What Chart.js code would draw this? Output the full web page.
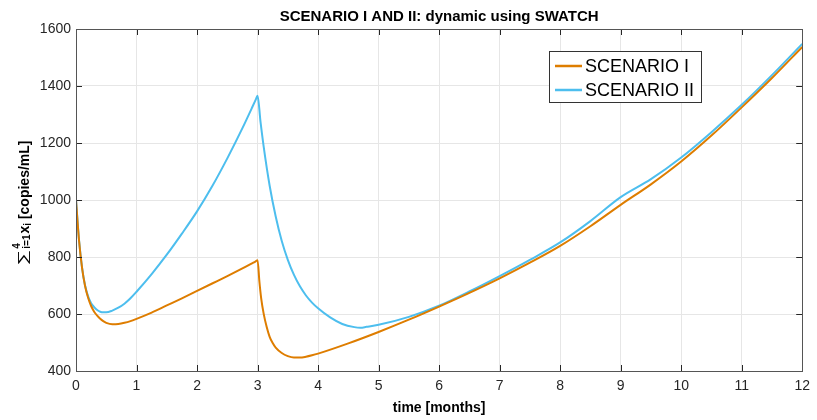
<!DOCTYPE html>
<html>
<head>
<meta charset="utf-8">
<script src="https://cdn.jsdelivr.net/npm/chart.js@4.4.1/dist/chart.umd.min.js"></script>
<style>
html,body{margin:0;padding:0;background:#fff}
</style>
</head>
<body>
<canvas id="chart" width="817" height="420"></canvas>
<script>
// values (time in months, copies/mL)
const timeI = [0,0.05,0.1,0.15,0.2,0.25,0.3,0.35,0.4,0.45,0.5,0.6,0.7,0.8,0.9,1,1.25,1.5,1.75,2,2.25,2.5,2.75,2.9,2.97,3,
  3.03,3.06,3.1,3.15,3.2,3.25,3.3,3.4,3.5,3.6,3.7,3.8,3.9,4,4.5,5,5.5,6,6.5,7,7.5,8,8.5,9,9.5,10,10.5,11,11.5,12]
const scenarioI = [1000,858,762,698,657,628,608,594,583,575,569,564,565,569,575,583,605,630,655,681,707,733,760,777,785,789,
  715,655,602,555,520,498,482,463,452,447,447,450,455,461,497,537,580,626,674,725,780,839,908,983,1055,1135,1226,1325,1428,1537]

const timeII = [0,0.05,0.1,0.15,0.2,0.25,0.3,0.35,0.4,0.45,0.5,0.6,0.7,0.8,0.9,1,1.25,1.5,1.75,2,2.25,2.5,2.75,2.9,2.97,3,
  3.05,3.1,3.2,3.3,3.4,3.5,3.6,3.7,3.8,3.9,4,4.2,4.4,4.6,4.7,4.8,5,5.5,6,6.5,7,7.5,8,8.5,9,9.5,10,10.5,11,11.5,12]
const scenarioII = [1000,860,763,700,662,638,624,614,608,606,606,612,622,636,655,678,740,808,882,960,1048,1146,1252,1320,1352,1366,
  1272,1189,1050,942,856,790,738,697,665,640,620,588,565,554,552,555,562,590,629,679,733,790,851,926,1010,1073,1149,1238,1334,1438,1548]

const seriesNames = ["SCENARIO I","SCENARIO II"]
const seriesColors = ["#DE7D00","#4DBEEE"]
const xTicks = [0,1,2,3,4,5,6,7,8,9,10,11,12]
const yTicks = [400,600,800,1000,1200,1400,1600]

const axisColor = "#262626"
const gridColor = "#e6e6e6"
const fontFam = "'Liberation Sans', Arial, Helvetica, sans-serif"

function toPoints(xs, ys){
  return xs.map((x,i)=>({x:x, y:ys[i]}))
}

// box round the plot with inward ticks, like MATLAB axes
const boxPlugin = {
  id:"box",
  afterDatasetsDraw(chart){
    const {ctx, chartArea:a, scales} = chart
    ctx.save()
    ctx.strokeStyle = axisColor
    ctx.lineWidth = 1
    ctx.beginPath()
    xTicks.forEach(v=>{
      let px = Math.round(scales.x.getPixelForValue(v))+0.5
      ctx.moveTo(px,a.bottom); ctx.lineTo(px,a.bottom-6)
      ctx.moveTo(px,a.top); ctx.lineTo(px,a.top+6)
    })
    yTicks.forEach(v=>{
      let py = Math.round(scales.y.getPixelForValue(v))+0.5
      ctx.moveTo(a.left,py); ctx.lineTo(a.left+6,py)
      ctx.moveTo(a.right,py); ctx.lineTo(a.right-6,py)
    })
    ctx.stroke()
    ctx.strokeStyle = "#555"
    ctx.strokeRect(Math.round(a.left)+0.5, Math.round(a.top)+0.5, Math.round(a.right-a.left), Math.round(a.bottom-a.top))
    ctx.restore()
  }
}

// legend box inside the plot
const legendPlugin = {
  id:"legendBox",
  afterDraw(chart){
    const ctx = chart.ctx
    ctx.save()
    ctx.fillStyle = "#fff"
    ctx.fillRect(549,51,152,51)
    ctx.strokeStyle = "#333"
    ctx.lineWidth = 1
    ctx.strokeRect(549.5,51.5,152,51)
    ctx.font = "18px " + fontFam
    ctx.textBaseline = "middle"
    chart.data.datasets.forEach((ds,i)=>{
      let y = 66 + i*24
      ctx.strokeStyle = ds.borderColor
      ctx.lineWidth = 2.5
      ctx.beginPath(); ctx.moveTo(555,y); ctx.lineTo(582,y); ctx.stroke()
      ctx.fillStyle = "#000"
      ctx.fillText(ds.label, 585, y+1)
    })
    ctx.restore()
  }
}

// y label with sum, superscript and subscripts
const yLabelPlugin = {
  id:"yLabel",
  afterDraw(chart){
    const ctx = chart.ctx
    const parts = [
      {t:"\u2211", f:"13px "+fontFam, dy:-2, sx:1.7},
      {t:"4", f:"bold 10px "+fontFam, dy:-9, stack:true, gap:1},
      {t:"i=1", f:"bold 10px "+fontFam, dy:1.5, gap:1},
      {t:"x", f:"bold 14px "+fontFam, dy:0, gap:1},
      {t:"i", f:"bold 10px "+fontFam, dy:2.5},
      {t:" [copies/mL]", f:"bold 14px "+fontFam, dy:0}
    ]
    ctx.save()
    let widths = []
    let total = 0
    parts.forEach((p,i)=>{
      ctx.font = p.f
      let w = ctx.measureText(p.t).width * (p.sx||1)
      widths.push(w)
      if(!p.stack) total += w + (p.gap||0)
    })
    ctx.translate(28.5, 203)
    ctx.rotate(-Math.PI/2)
    ctx.fillStyle = "#000"
    ctx.textBaseline = "alphabetic"
    let x = -total/2
    parts.forEach((p,i)=>{
      ctx.font = p.f
      let gx = x + (p.gap||0)
      if(p.sx){
        ctx.save(); ctx.translate(gx, p.dy); ctx.scale(p.sx,1); ctx.fillText(p.t,0,0); ctx.restore()
      } else {
        ctx.fillText(p.t, gx, p.dy)
      }
      if(!p.stack) x = gx + widths[i]
    })
    ctx.restore()
  }
}

new Chart(document.getElementById("chart"),{
  type:"line",
  data:{
    datasets:[
      {label:seriesNames[0], data:toPoints(timeI,scenarioI), borderColor:seriesColors[0], borderWidth:2, pointRadius:0, cubicInterpolationMode:"monotone", fill:false},
      {label:seriesNames[1], data:toPoints(timeII,scenarioII), borderColor:seriesColors[1], borderWidth:2, pointRadius:0, cubicInterpolationMode:"monotone", fill:false}
    ]
  },
  options:{
    responsive:false,
    animation:false,
    devicePixelRatio:1,
    layout:{padding:{left:0,right:9,top:0,bottom:0}},
    plugins:{
      legend:{display:false},
      tooltip:{enabled:false},
      title:{
        display:true,
        fullSize:false,
        text:"SCENARIO I AND II: dynamic using SWATCH",
        color:"#000",
        font:{family:fontFam, size:15, weight:"bold"},
        padding:{top:7.5,bottom:3.5}
      }
    },
    scales:{
      x:{
        type:"linear", min:0, max:12,
        afterFit(s){ s.height = 49 },
        afterBuildTicks(s){ s.ticks = xTicks.map(v=>({value:v})) },
        ticks:{color:axisColor, font:{family:fontFam, size:14}, padding:7, maxRotation:0, callback:v=>String(v)},
        grid:{color:gridColor, drawTicks:false},
        border:{display:false},
        title:{display:true, text:"time [months]", color:"#000", font:{family:fontFam, size:14, weight:"bold"}, padding:{top:0,bottom:3.6}}
      },
      y:{
        min:400, max:1600,
        afterFit(s){ s.width = 76 },
        afterBuildTicks(s){ s.ticks = yTicks.map(v=>({value:v})) },
        ticks:{color:axisColor, font:{family:fontFam, size:14}, padding:5, callback:v=>String(v)},
        grid:{color:gridColor, drawTicks:false},
        border:{display:false}
      }
    }
  },
  plugins:[boxPlugin, legendPlugin, yLabelPlugin]
})
</script>
</body>
</html>
